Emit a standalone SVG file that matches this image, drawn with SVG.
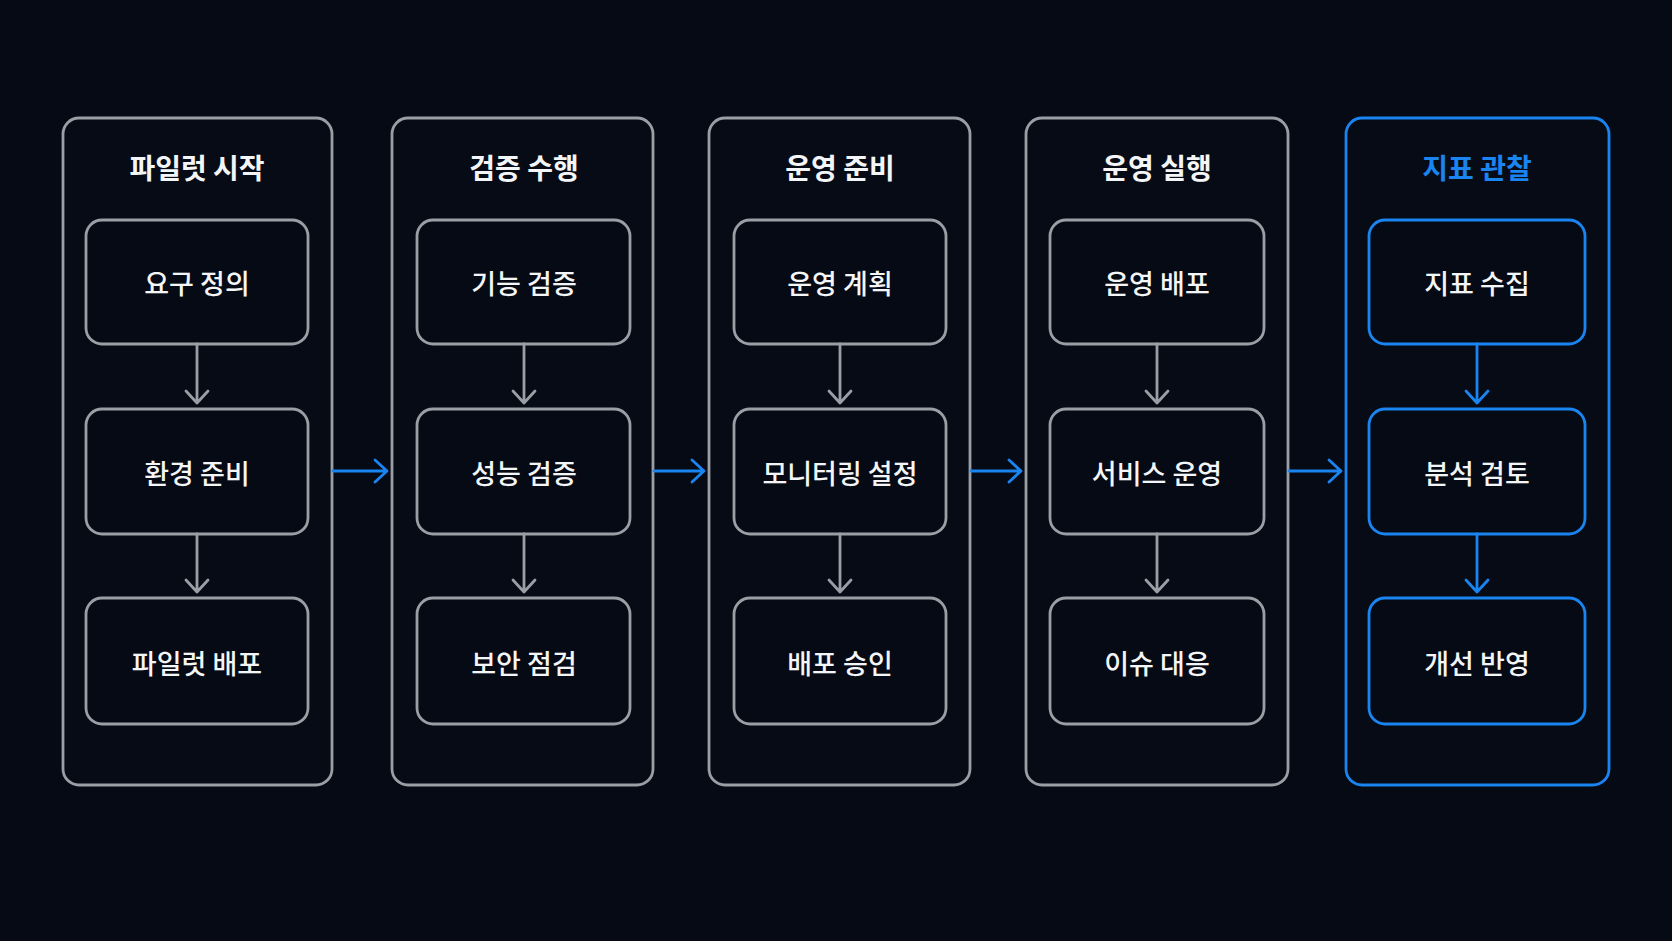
<svg xmlns="http://www.w3.org/2000/svg" width="1672" height="941" viewBox="0 0 1672 941">
  <style>
    .bg { fill: #050a14; }
    .outer { fill: #060b15; stroke: #9b9ea4; stroke-width: 2.8; }
    .inner { fill: #050a14; stroke: #9b9ea4; stroke-width: 2.8; }
    .outer.hl, .inner.hl { stroke: #1a84f0; }
    .title { font-family: "Noto Sans CJK KR", "Noto Sans", sans-serif; font-size: 28px; font-weight: 700; fill: #f4f5f7; text-anchor: middle; }
    .title.hl { fill: #1a84f0; }
    .label { font-family: "Noto Sans CJK KR", "Noto Sans", sans-serif; font-size: 27px; font-weight: 500; fill: #f4f5f7; text-anchor: middle; }
    .conn { fill: none; stroke: #9b9ea4; stroke-width: 2.8; stroke-linecap: round; stroke-linejoin: round; }
    .conn.hl { stroke: #1a84f0; }
    .flow { fill: none; stroke: #1a84f0; stroke-width: 2.8; stroke-linecap: round; stroke-linejoin: round; }
  </style>
  <rect class="bg" x="0" y="0" width="1672" height="941"/>

  <g id="stage1">
    <rect class="outer" x="63" y="118" width="269" height="667" rx="16"/>
    <text class="title" x="197" y="179">파일럿 시작</text>
    <g id="s1n1"><rect class="inner" x="86" y="220" width="222" height="124" rx="16"/><text class="label" x="197" y="294">요구 정의</text></g>
    <g id="s1n2"><rect class="inner" x="86" y="409" width="222" height="125" rx="16"/><text class="label" x="197" y="484">환경 준비</text></g>
    <g id="s1n3"><rect class="inner" x="86" y="598" width="222" height="126" rx="16"/><text class="label" x="197" y="674">파일럿 배포</text></g>
  </g>

  <g id="stage2">
    <rect class="outer" x="392" y="118" width="261" height="667" rx="16"/>
    <text class="title" x="524" y="179">검증 수행</text>
    <g id="s2n1"><rect class="inner" x="417" y="220" width="213" height="124" rx="16"/><text class="label" x="524" y="294">기능 검증</text></g>
    <g id="s2n2"><rect class="inner" x="417" y="409" width="213" height="125" rx="16"/><text class="label" x="524" y="484">성능 검증</text></g>
    <g id="s2n3"><rect class="inner" x="417" y="598" width="213" height="126" rx="16"/><text class="label" x="524" y="674">보안 점검</text></g>
  </g>

  <g id="stage3">
    <rect class="outer" x="709" y="118" width="261" height="667" rx="16"/>
    <text class="title" x="840" y="179">운영 준비</text>
    <g id="s3n1"><rect class="inner" x="734" y="220" width="212" height="124" rx="16"/><text class="label" x="840" y="294">운영 계획</text></g>
    <g id="s3n2"><rect class="inner" x="734" y="409" width="212" height="125" rx="16"/><text class="label" x="840" y="484">모니터링 설정</text></g>
    <g id="s3n3"><rect class="inner" x="734" y="598" width="212" height="126" rx="16"/><text class="label" x="840" y="674">배포 승인</text></g>
  </g>

  <g id="stage4">
    <rect class="outer" x="1026" y="118" width="262" height="667" rx="16"/>
    <text class="title" x="1157" y="179">운영 실행</text>
    <g id="s4n1"><rect class="inner" x="1050" y="220" width="214" height="124" rx="16"/><text class="label" x="1157" y="294">운영 배포</text></g>
    <g id="s4n2"><rect class="inner" x="1050" y="409" width="214" height="125" rx="16"/><text class="label" x="1157" y="484">서비스 운영</text></g>
    <g id="s4n3"><rect class="inner" x="1050" y="598" width="214" height="126" rx="16"/><text class="label" x="1157" y="674">이슈 대응</text></g>
  </g>

  <g id="stage5">
    <rect class="outer hl" x="1346" y="118" width="263" height="667" rx="16"/>
    <text class="title hl" x="1477" y="179">지표 관찰</text>
    <g id="s5n1"><rect class="inner hl" x="1369" y="220" width="216" height="124" rx="16"/><text class="label" x="1477" y="294">지표 수집</text></g>
    <g id="s5n2"><rect class="inner hl" x="1369" y="409" width="216" height="125" rx="16"/><text class="label" x="1477" y="484">분석 검토</text></g>
    <g id="s5n3"><rect class="inner hl" x="1369" y="598" width="216" height="126" rx="16"/><text class="label" x="1477" y="674">개선 반영</text></g>
  </g>

  <g id="connectors">
    <path class="conn" d="M197 344 V403 M186 391 L197 403 L208 391"/>
    <path class="conn" d="M197 534 V592 M186 580 L197 592 L208 580"/>
    <path class="conn" d="M524 344 V403 M513 391 L524 403 L535 391"/>
    <path class="conn" d="M524 534 V592 M513 580 L524 592 L535 580"/>
    <path class="conn" d="M840 344 V403 M829 391 L840 403 L851 391"/>
    <path class="conn" d="M840 534 V592 M829 580 L840 592 L851 580"/>
    <path class="conn" d="M1157 344 V403 M1146 391 L1157 403 L1168 391"/>
    <path class="conn" d="M1157 534 V592 M1146 580 L1157 592 L1168 580"/>
    <path class="conn hl" d="M1477 344 V403 M1466 391 L1477 403 L1488 391"/>
    <path class="conn hl" d="M1477 534 V592 M1466 580 L1477 592 L1488 580"/>
    <path class="flow" d="M333 471 H387 M375 460 L387 471 L375 482"/>
    <path class="flow" d="M654 471 H704 M692 460 L704 471 L692 482"/>
    <path class="flow" d="M971 471 H1021 M1009 460 L1021 471 L1009 482"/>
    <path class="flow" d="M1289 471 H1341 M1329 460 L1341 471 L1329 482"/>
  </g>
</svg>
